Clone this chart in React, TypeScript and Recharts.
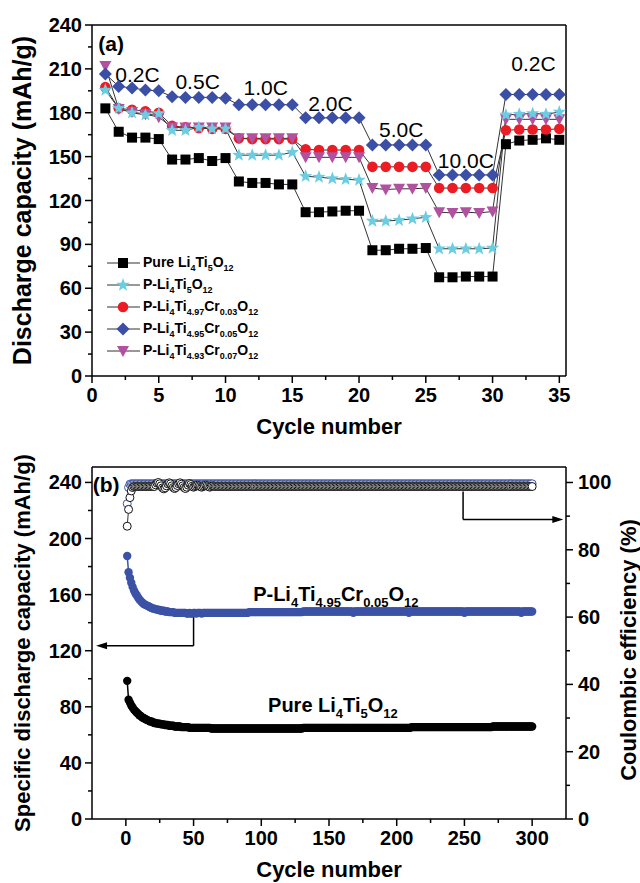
import React from "react";
import {
  LineChart,
  ComposedChart,
  Line,
  XAxis,
  YAxis,
  ReferenceLine,
  ReferenceDot,
  Legend,
} from "recharts";

const FONT = '"Liberation Sans", Arial, Helvetica, sans-serif';

// ---------- (a) rate capability ----------
const rateCycles = [
  1, 2, 3, 4, 5, 6, 7, 8, 9, 10, 11, 12, 13, 14, 15, 16, 17, 18, 19, 20,
  21, 22, 23, 24, 25, 26, 27, 28, 29, 30, 31, 32, 33, 34, 35,
];
const pureRate = [
  183, 167, 163, 163, 162, 148, 148, 149, 147, 149, 133, 132, 132, 131, 131, 112, 112, 112.5, 113, 113,
  86, 86, 87, 87, 87.5, 67.5, 67.5, 68, 68, 68, 158.5, 161, 161.5, 162.5, 161.5,
];
const pLtoRate = [
  195.5, 183, 180, 178.5, 179.5, 168, 168, 170, 169, 169, 151, 151, 151, 151, 153, 136.5, 136, 135, 134.5, 134,
  106, 106, 106.5, 107.5, 108.5, 87, 87, 87, 87, 87.5, 178.5, 179, 179.5, 179, 180.5,
];
const cr003Rate = [
  197.5, 183, 182, 181, 180, 171, 170, 169.5, 169, 169, 162.5, 162, 162, 162, 162, 155, 154.5, 154.5, 154.5, 154.5,
  143, 143, 143, 143, 143, 128.5, 128.5, 128.5, 128.5, 128.5, 168, 168.5, 168.5, 168.5, 169,
];
const cr005Rate = [
  206.5, 198, 197, 195.5, 195, 191, 190.5, 190.5, 190.5, 190, 185.5, 185.5, 185.5, 185.5, 185.5, 176.5, 176.5, 176.5, 176.5, 176.5,
  158, 158, 158, 158, 158, 137.5, 137.5, 137.5, 137.5, 137.5, 192.5, 192.5, 192.5, 192.5, 192.5,
];
const cr007Rate = [
  212, 182.5, 180.5, 179, 177, 170, 170, 170, 170, 170, 162.5, 162.5, 162.5, 162.5, 162.5, 149.5, 149.5, 149.5, 149.5, 149.5,
  128.5, 127.5, 128, 128, 128.5, 112, 111.5, 112, 111.5, 112.5, 175.5, 175.5, 175.5, 175.5, 175.5,
];

const rateTicksX = [0, 2.5, 5, 7.5, 10, 12.5, 15, 17.5, 20, 22.5, 25, 27.5, 30, 32.5, 35];
const rateMajorX = [0, 5, 10, 15, 20, 25, 30, 35];
const rateTicksY = [0, 15, 30, 45, 60, 75, 90, 105, 120, 135, 150, 165, 180, 195, 210, 225, 240];
const rateMajorY = [0, 30, 60, 90, 120, 150, 180, 210, 240];

const rateLabels = [
  { text: "0.2C", x: 1.75, y: 201 },
  { text: "0.5C", x: 6.25, y: 196.5 },
  { text: "1.0C", x: 11.35, y: 192.3 },
  { text: "2.0C", x: 16.2, y: 181.5 },
  { text: "5.0C", x: 21.5, y: 163.7 },
  { text: "10.0C", x: 25.9, y: 142.3 },
  { text: "0.2C", x: 31.4, y: 208.7 },
];

// ---------- (b) long cycling, 300 cycles ----------
const pureCycle = [
  98.5, 85, 83, 81, 79.5, 78, 77, 76, 75, 74, 73.5, 72.5, 72, 71.5, 71, 70.5, 70, 69.5, 69.5, 69,
  68.5, 68.5, 68, 68, 68, 67.5, 67.5, 67.5, 67, 67, 67, 66.5, 66.5, 66.5, 66.5, 66, 66, 66, 66, 66,
  65.5, 65.5, 65.5, 65.5, 65.5, 65.5, 65, 65, 65, 65, 65, 65, 65, 65, 65, 65, 65, 65, 65, 65,
  65, 65, 64.5, 64.5, 64.5, 64.5, 64.5, 64.5, 64.5, 64.5, 64.5, 64.5, 64.5, 64.5, 64.5, 64.5, 64.5, 64.5, 64.5, 64.5,
  64.5, 64.5, 64.5, 64.5, 64.5, 64.5, 64.5, 64.5, 64.5, 64.5, 64.5, 64.5, 64.5, 64.5, 64.5, 64.5, 64.5, 64.5, 64.5, 64.5,
  64.5, 64.5, 64.5, 64.5, 64.5, 64.5, 64.5, 64.5, 64.5, 64.5, 64.5, 64.5, 64.5, 64.5, 64.5, 64.5, 64.5, 64.5, 64.5, 64.5,
  64.5, 64.5, 64.5, 64.5, 64.5, 64.5, 64.5, 64.5, 64.5, 64.5, 65, 65, 65, 65, 65, 65, 65, 65, 65, 65,
  65, 65, 65, 65, 65, 65, 65, 65, 65, 65, 65, 65, 65, 65, 65, 65, 65, 65, 65, 65,
  65, 65, 65, 65, 65, 65, 65, 65, 65, 65, 65, 65, 65, 65, 65, 65, 65, 65, 65, 65,
  65, 65, 65, 65, 65, 65, 65, 65, 65, 65, 65, 65, 65, 65, 65, 65, 65, 65, 65, 65,
  65, 65, 65, 65, 65, 65, 65, 65, 65, 65, 65.5, 65.5, 65.5, 65.5, 65.5, 65.5, 65.5, 65.5, 65.5, 65.5,
  65.5, 65.5, 65.5, 65.5, 65.5, 65.5, 65.5, 65.5, 65.5, 65.5, 65.5, 65.5, 65.5, 65.5, 65.5, 65.5, 65.5, 65.5, 65.5, 65.5,
  65.5, 65.5, 65.5, 65.5, 65.5, 65.5, 65.5, 65.5, 65.5, 65.5, 65.5, 65.5, 65.5, 65.5, 65.5, 65.5, 65.5, 65.5, 65.5, 65.5,
  65.5, 65.5, 65.5, 65.5, 65.5, 65.5, 65.5, 65.5, 65.5, 65.5, 66, 66, 66, 66, 66, 66, 66, 66, 66, 66,
  66, 66, 66, 66, 66, 66, 66, 66, 66, 66, 66, 66, 66, 66, 66, 66, 66, 66, 66, 66,
];
const crCycle = [
  187.5, 176, 172, 168.5, 165.5, 163, 161, 159.5, 158, 156.5, 155.5, 154.5, 153.5, 153, 152.5, 152, 151.5, 151, 150.5, 150,
  150, 149.5, 149.5, 149, 149, 148.5, 148.5, 148.5, 148, 148, 148, 147.5, 147.5, 147.5, 147.5, 147, 147, 147, 147, 147,
  147, 147, 147, 147, 146.5, 146.5, 147, 146.5, 146.5, 147, 147, 146.5, 147, 147, 147, 146.5, 147, 147, 147, 147,
  147, 147, 147, 147, 147, 147, 147, 147, 147, 147, 147, 147, 147, 147, 147, 147, 147, 147, 147, 147,
  147, 147, 147, 147, 147, 147, 147, 147, 147, 147, 147.5, 147.5, 147.5, 147.5, 147.5, 147.5, 147.5, 147.5, 147.5, 147.5,
  147.5, 147.5, 147.5, 147.5, 147.5, 147.5, 147.5, 147.5, 147.5, 147.5, 147.5, 147.5, 147.5, 147.5, 147.5, 147.5, 147.5, 147.5, 147.5, 147.5,
  147.5, 147.5, 147.5, 147.5, 147.5, 147.5, 147.5, 147.5, 147.5, 147.5, 148, 148, 148, 148, 148, 148, 148, 148, 148, 148,
  148, 148, 148, 148, 148, 148, 148, 148, 148, 148, 148, 148, 148, 148, 148, 148, 148, 148, 148, 148,
  148, 148, 148, 148, 148, 148, 148, 147, 148, 148, 148, 148, 148, 148, 148, 148, 148, 148, 148, 148,
  148, 148, 148, 148, 148, 148, 148, 148, 148, 148, 148, 148, 148, 148, 148, 148, 148, 148, 148, 148,
  148, 148, 148, 148, 148, 148, 148, 148, 147, 148, 148, 148, 148, 148, 148, 148, 148, 148, 148, 148,
  148, 148, 148, 148, 148, 148, 148, 148, 148, 148, 148, 148, 148, 148, 148, 148, 148, 148, 148, 148,
  148, 148, 148, 148, 148, 148, 148, 148, 148, 147, 148, 148, 148, 148, 148, 148, 148, 148, 148, 148,
  148, 148, 148, 148, 148, 148, 148, 148, 148, 148, 148, 148, 148, 148, 148, 148, 148, 148, 148, 148,
  148, 148, 148, 148, 148, 148, 148, 148, 148, 148, 148, 147, 148, 148, 148, 148, 148, 148, 148, 148,
];
const effPure = [
  87, 92, 95.5, 97.5, 98.5, 98.8, 98.8, 98.8, 98.8, 98.8, 98.8, 98.8, 98.8, 98.8, 98.8, 98.8, 98.8, 98.8, 98.8, 98.8,
  98.8, 99.3, 99.8, 100, 99.6, 99, 98.4, 98.1, 98.4, 99, 99.6, 99.9, 99.6, 99, 98.5, 98.2, 98.5, 99.1, 99.6, 99.9,
  99.5, 99, 98.5, 98.2, 98.6, 99.2, 99.7, 99.4, 98.9, 98.6, 98.8, 99, 99.2, 99, 98.8, 98.6, 98.8, 99, 99.2, 99,
  98.8, 98.6, 98.8, 99, 98.9, 98.8, 98.8, 98.8, 98.8, 98.8, 98.8, 98.8, 98.8, 98.8, 98.8, 98.8, 98.8, 98.8, 98.8, 98.8,
  98.8, 98.8, 98.8, 98.8, 98.8, 98.8, 98.8, 98.8, 98.8, 98.8, 98.8, 98.8, 98.8, 98.8, 98.8, 98.8, 98.8, 98.8, 98.8, 98.8,
  98.8, 98.8, 98.8, 98.8, 98.8, 98.8, 98.8, 98.8, 98.8, 98.8, 98.8, 98.8, 98.8, 98.8, 98.8, 98.8, 98.8, 98.8, 98.8, 98.8,
  98.8, 98.8, 98.8, 98.8, 98.8, 98.8, 98.8, 98.8, 98.8, 98.8, 98.8, 98.8, 98.8, 98.8, 98.8, 98.8, 98.8, 98.8, 98.8, 98.8,
  98.8, 98.8, 98.8, 98.8, 98.8, 98.8, 98.8, 98.8, 98.8, 98.8, 98.8, 98.8, 98.8, 98.8, 98.8, 98.8, 98.8, 98.8, 98.8, 98.8,
  98.8, 98.8, 98.8, 98.8, 98.8, 98.8, 98.8, 98.8, 98.8, 98.8, 98.8, 98.8, 98.8, 98.8, 98.8, 98.8, 98.8, 98.8, 98.8, 98.8,
  98.8, 98.8, 98.8, 98.8, 98.8, 98.8, 98.8, 98.8, 98.8, 98.8, 98.8, 98.8, 98.8, 98.8, 98.8, 98.8, 98.8, 98.8, 98.8, 98.8,
  98.8, 98.8, 98.8, 98.8, 98.8, 98.8, 98.8, 98.8, 98.8, 98.8, 98.8, 98.8, 98.8, 98.8, 98.8, 98.8, 98.8, 98.8, 98.8, 98.8,
  98.8, 98.8, 98.8, 98.8, 98.8, 98.8, 98.8, 98.8, 98.8, 98.8, 98.8, 98.8, 98.8, 98.8, 98.8, 98.8, 98.8, 98.8, 98.8, 98.8,
  98.8, 98.8, 98.8, 98.8, 98.8, 98.8, 98.8, 98.8, 98.8, 98.8, 98.8, 98.8, 98.8, 98.8, 98.8, 98.8, 98.8, 98.8, 98.8, 98.8,
  98.8, 98.8, 98.8, 98.8, 98.8, 98.8, 98.8, 98.8, 98.8, 98.8, 98.8, 98.8, 98.8, 98.8, 98.8, 98.8, 98.8, 98.8, 98.8, 98.8,
  98.8, 98.8, 98.8, 98.8, 98.8, 98.8, 98.8, 98.8, 98.8, 98.8, 98.8, 98.8, 98.8, 98.8, 98.8, 98.8, 98.8, 98.8, 98.8, 98.8,
];
const effCr = [
  93.7, 98.5, 99.5, 99.6, 99.6, 99.6, 99.6, 99.6, 99.6, 99.6, 99.6, 99.6, 99.6, 99.6, 99.6, 99.6, 99.6, 99.6, 99.6, 99.6,
  99.6, 99.6, 99.6, 99.6, 99.6, 99.6, 99.6, 99.6, 99.6, 99.6, 99.6, 99.6, 99.6, 99.6, 99.6, 99.6, 99.6, 99.6, 99.6, 99.6,
  99.6, 99.6, 99.6, 99.6, 99.6, 99.6, 99.6, 99.6, 99.6, 99.6, 99.6, 99.6, 99.6, 99.6, 99.6, 99.6, 99.6, 99.6, 99.6, 99.6,
  99.6, 99.6, 99.6, 99.6, 99.6, 99.6, 99.6, 99.6, 99.6, 99.6, 99.6, 99.6, 99.6, 99.6, 99.6, 99.6, 99.6, 99.6, 99.6, 99.6,
  99.6, 99.6, 99.6, 99.6, 99.6, 99.6, 99.6, 99.6, 99.6, 99.6, 99.6, 99.6, 99.6, 99.6, 99.6, 99.6, 99.6, 99.6, 99.6, 99.6,
  99.6, 99.6, 99.6, 99.6, 99.6, 99.6, 99.6, 99.6, 99.6, 99.6, 99.6, 99.6, 99.6, 99.6, 99.6, 99.6, 99.6, 99.6, 99.6, 99.6,
  99.6, 99.6, 99.6, 99.6, 99.6, 99.6, 99.6, 99.6, 99.6, 99.6, 99.6, 99.6, 99.6, 99.6, 99.6, 99.6, 99.6, 99.6, 99.6, 99.6,
  99.6, 99.6, 99.6, 99.6, 99.6, 99.6, 99.6, 99.6, 99.6, 99.6, 99.6, 99.6, 99.6, 99.6, 99.6, 99.6, 99.6, 99.6, 99.6, 99.6,
  99.6, 99.6, 99.6, 99.6, 99.6, 99.6, 99.6, 99.6, 99.6, 99.6, 99.6, 99.6, 99.6, 99.6, 99.6, 99.6, 99.6, 99.6, 99.6, 99.6,
  99.6, 99.6, 99.6, 99.6, 99.6, 99.6, 99.6, 99.6, 99.6, 99.6, 99.6, 99.6, 99.6, 99.6, 99.6, 99.6, 99.6, 99.6, 99.6, 99.6,
  99.6, 99.6, 99.6, 99.6, 99.6, 99.6, 99.6, 99.6, 99.6, 99.6, 99.6, 99.6, 99.6, 99.6, 99.6, 99.6, 99.6, 99.6, 99.6, 99.6,
  99.6, 99.6, 99.6, 99.6, 99.6, 99.6, 99.6, 99.6, 99.6, 99.6, 99.6, 99.6, 99.6, 99.6, 99.6, 99.6, 99.6, 99.6, 99.6, 99.6,
  99.6, 99.6, 99.6, 99.6, 99.6, 99.6, 99.6, 99.6, 99.6, 99.6, 99.6, 99.6, 99.6, 99.6, 99.6, 99.6, 99.6, 99.6, 99.6, 99.6,
  99.6, 99.6, 99.6, 99.6, 99.6, 99.6, 99.6, 99.6, 99.6, 99.6, 99.6, 99.6, 99.6, 99.6, 99.6, 99.6, 99.6, 99.6, 99.6, 99.6,
  99.6, 99.6, 99.6, 99.6, 99.6, 99.6, 99.6, 99.6, 99.6, 99.6, 99.6, 99.6, 99.6, 99.6, 99.6, 99.6, 99.6, 99.6, 99.6, 99.6,
];

const cycleTicksX = [0, 25, 50, 75, 100, 125, 150, 175, 200, 225, 250, 275, 300];
const cycleMajorX = [0, 50, 100, 150, 200, 250, 300];
const capTicksY = [0, 20, 40, 60, 80, 100, 120, 140, 160, 180, 200, 220, 240];
const capMajorY = [0, 40, 80, 120, 160, 200, 240];
const effTicksY = [0, 10, 20, 30, 40, 50, 60, 70, 80, 90, 100];
const effMajorY = [0, 20, 40, 60, 80, 100];

// ---------- series look ----------
const rateSeries = [
  { key: "pure", name: "Pure Li_4Ti_5O_12", shape: "square", color: "#000000" },
  { key: "p", name: "P-Li_4Ti_5O_12", shape: "star", color: "#6ccde2" },
  { key: "cr003", name: "P-Li_4Ti_4.97Cr_0.03O_12", shape: "circle", color: "#ec1c24" },
  { key: "cr005", name: "P-Li_4Ti_4.95Cr_0.05O_12", shape: "diamond", color: "#3b4fa6" },
  { key: "cr007", name: "P-Li_4Ti_4.93Cr_0.07O_12", shape: "triangle", color: "#b2519f" },
];
const drawOrder = ["pure", "cr003", "cr007", "p", "cr005"];

const rateRows = rateCycles.map((c, i) => ({
  cycle: c,
  pure: pureRate[i],
  p: pLtoRate[i],
  cr003: cr003Rate[i],
  cr005: cr005Rate[i],
  cr007: cr007Rate[i],
}));

const cycleRows = pureCycle.map((v, i) => ({
  cycle: i + 1,
  pure: v,
  cr: crCycle[i],
  effPure: effPure[i],
  effCr: effCr[i],
}));

function starPoints(cx: number, cy: number, ro: number, ri: number) {
  const pts: string[] = [];
  for (let i = 0; i < 10; i++) {
    const a = (Math.PI / 5) * i - Math.PI / 2;
    const r = i % 2 === 0 ? ro : ri;
    pts.push(`${cx + r * Math.cos(a)},${cy + r * Math.sin(a)}`);
  }
  return pts.join(" ");
}

function Marker({ shape, color, cx, cy }: any) {
  if (cx == null || cy == null) return null;
  switch (shape) {
    case "square":
      return <rect x={cx - 5} y={cy - 5} width={10} height={10} fill={color} />;
    case "circle":
      return <circle cx={cx} cy={cy} r={5.3} fill={color} />;
    case "diamond":
      return (
        <polygon
          points={`${cx},${cy - 6.5} ${cx + 6.5},${cy} ${cx},${cy + 6.5} ${cx - 6.5},${cy}`}
          fill={color}
        />
      );
    case "triangle":
      return (
        <polygon
          points={`${cx - 6},${cy - 5} ${cx + 6},${cy - 5} ${cx},${cy + 6}`}
          fill={color}
        />
      );
    default:
      return <polygon points={starPoints(cx, cy, 7, 2.9)} fill={color} />;
  }
}

// formula text: "_x" marks a subscript run of digits/dots
function SvgFormula({ x, y, f, size, subSize, shift }: any) {
  const parts = f.split(/_([\d.]+)/);
  let cur = 0;
  return (
    <text x={x} y={y} fontFamily={FONT} fontSize={size} fontWeight={700} fill="#000">
      {parts.map((t: string, i: number) => {
        if (!t) return null;
        const target = i % 2 ? shift : 0;
        const dy = target - cur;
        cur = target;
        return (
          <tspan key={i} dy={dy} fontSize={i % 2 ? subSize : size}>
            {t}
          </tspan>
        );
      })}
    </text>
  );
}

function HtmlFormula({ f }: { f: string }) {
  const parts = f.split(/_([\d.]+)/);
  return (
    <span>
      {parts.map((t, i) =>
        i % 2 ? (
          <span key={i} style={{ fontSize: 9, position: "relative", top: 4 }}>
            {t}
          </span>
        ) : (
          <span key={i}>{t}</span>
        )
      )}
    </span>
  );
}

function RateLegend() {
  return (
    <div style={{ fontFamily: FONT, fontWeight: 700, fontSize: 14, color: "#000" }}>
      {rateSeries.map((s) => (
        <div key={s.key} style={{ display: "flex", alignItems: "center", height: 22 }}>
          <svg width={36} height={16} style={{ display: "block" }}>
            <line x1={1} x2={34} y1={8} y2={8} stroke="#333" strokeWidth={1} />
            <Marker shape={s.shape} color={s.color} cx={17} cy={8} />
          </svg>
          <span style={{ marginLeft: 1, whiteSpace: "nowrap", lineHeight: "16px" }}>
            <HtmlFormula f={s.name} />
          </span>
        </div>
      ))}
    </div>
  );
}

const tickFont = { fontFamily: FONT, fontSize: 20, fontWeight: 700, fill: "#000" };

function makeTick(side: "left" | "right" | "bottom", majors: number[]) {
  return (props: any) => {
    const { x, y, payload } = props;
    const v = payload.value;
    const major = majors.includes(v);
    const len = major ? 7 : 4;
    if (side === "left") {
      return (
        <g>
          <line x1={x - len} x2={x} y1={y} y2={y} stroke="#000" strokeWidth={1.5} />
          {major && (
            <text x={x - 10} y={y + 7} textAnchor="end" {...tickFont}>
              {v}
            </text>
          )}
        </g>
      );
    }
    if (side === "right") {
      return (
        <g>
          <line x1={x} x2={x + len} y1={y} y2={y} stroke="#000" strokeWidth={1.5} />
          {major && (
            <text x={x + 12} y={y + 7} textAnchor="start" {...tickFont}>
              {v}
            </text>
          )}
        </g>
      );
    }
    return (
      <g>
        <line x1={x} x2={x} y1={y} y2={y + len} stroke="#000" strokeWidth={1.5} />
        {major && (
          <text x={x} y={y + 26} textAnchor="middle" {...tickFont}>
            {v}
          </text>
        )}
      </g>
    );
  };
}

const titleFont = { fontFamily: FONT, fontWeight: 700, fill: "#000" };

function xTitle(props: any) {
  const vb = props.viewBox || {};
  return (
    <text x={vb.x + vb.width / 2} y={vb.y + 58} textAnchor="middle" fontSize={22} {...titleFont}>
      Cycle number
    </text>
  );
}

function yTitle(text: string, dx: number, dy: number, size: number) {
  return (props: any) => {
    const vb = props.viewBox || {};
    const cx = vb.x + dx;
    const cy = vb.y + vb.height / 2 + dy;
    return (
      <text
        x={cx}
        y={cy}
        textAnchor="middle"
        dominantBaseline="central"
        transform={`rotate(-90, ${cx}, ${cy})`}
        fontSize={size}
        {...titleFont}
      >
        {text}
      </text>
    );
  };
}

function arrowHead(dir: "left" | "right") {
  return (p: any) => {
    const { cx, cy } = p;
    const b = dir === "left" ? cx + 11 : cx - 11;
    return <polygon points={`${cx},${cy} ${b},${cy - 3.5} ${b},${cy + 3.5}`} fill="#000" />;
  };
}

const axisCommon = {
  stroke: "#000",
  axisLine: { stroke: "#000", strokeWidth: 1.5 },
  tickLine: false,
  tickSize: 0,
  tickMargin: 0,
  interval: 0 as const,
};

export default function App() {
  return (
    <div style={{ position: "absolute", left: 0, top: 0, width: 640, height: 883, background: "#fff" }}>
      <div style={{ position: "absolute", left: 0, top: 0 }}>
        <LineChart
          width={640}
          height={440}
          data={rateRows}
          margin={{ top: 25, right: 74, bottom: 0, left: 32 }}
          style={{ fontFamily: FONT }}
        >
          <XAxis
            dataKey="cycle"
            type="number"
            domain={[0, 35.5]}
            ticks={rateTicksX}
            tick={makeTick("bottom", rateMajorX)}
            height={64}
            label={xTitle}
            {...axisCommon}
          />
          <YAxis
            type="number"
            domain={[0, 240]}
            ticks={rateTicksY}
            tick={makeTick("left", rateMajorY)}
            width={60}
            label={yTitle("Discharge capacity (mAh/g)", -10, 0, 25)}
            {...axisCommon}
          />
          <ReferenceLine x={35.5} stroke="#000" strokeWidth={1.5} />
          <ReferenceLine y={240} stroke="#000" strokeWidth={1.5} />
          {drawOrder.map((k) => {
            const s = rateSeries.find((r) => r.key === k)!;
            return (
              <Line
                key={k}
                dataKey={k}
                stroke="#333"
                strokeWidth={1}
                isAnimationActive={false}
                activeDot={false}
                dot={(p: any) => (
                  <Marker key={`${k}-${p.index}`} shape={s.shape} color={s.color} cx={p.cx} cy={p.cy} />
                )}
              />
            );
          })}
          {rateLabels.map((l, i) => (
            <ReferenceDot
              key={`rl-${i}`}
              x={l.x}
              y={l.y}
              r={0}
              ifOverflow="visible"
              shape={(p: any) => (
                <text x={p.cx} y={p.cy} fontFamily={FONT} fontSize={21} fill="#000">
                  {l.text}
                </text>
              )}
            />
          ))}
          <ReferenceDot
            x={0.47}
            y={222}
            r={0}
            ifOverflow="visible"
            shape={(p: any) => (
              <text x={p.cx} y={p.cy} fontFamily={FONT} fontSize={21} fontWeight={700} fill="#000">
                (a)
              </text>
            )}
          />
          <Legend
            layout="horizontal"
            verticalAlign="middle"
            align="center"
            wrapperStyle={{ left: 106, top: 252, width: 280 }}
            content={() => <RateLegend />}
          />
        </LineChart>
      </div>

      <div style={{ position: "absolute", left: 0, top: 440 }}>
        <ComposedChart
          width={640}
          height={443}
          data={cycleRows}
          margin={{ top: 27, right: 14, bottom: 0, left: 32 }}
          style={{ fontFamily: FONT }}
        >
          <XAxis
            dataKey="cycle"
            type="number"
            domain={[-25, 325]}
            ticks={cycleTicksX}
            tick={makeTick("bottom", cycleMajorX)}
            height={64}
            label={xTitle}
            {...axisCommon}
          />
          <YAxis
            yAxisId="left"
            type="number"
            domain={[0, 251]}
            ticks={capTicksY}
            tick={makeTick("left", capMajorY)}
            width={60}
            label={yTitle("Specific discharge capacity (mAh/g)", -10, 0, 22)}
            {...axisCommon}
          />
          <YAxis
            yAxisId="right"
            orientation="right"
            type="number"
            domain={[0, 104.6]}
            ticks={effTicksY}
            tick={makeTick("right", effMajorY)}
            width={60}
            label={yTitle("Coulombic efficiency (%)", 62, 7, 22)}
            {...axisCommon}
          />
          <ReferenceLine yAxisId="left" y={251} stroke="#000" strokeWidth={1.5} />

          <Line
            yAxisId="right"
            dataKey="effCr"
            stroke="#3b52a6"
            strokeWidth={1}
            isAnimationActive={false}
            activeDot={false}
            dot={(p: any) => (
              <circle key={`ec-${p.index}`} cx={p.cx} cy={p.cy} r={4} fill="#fff" stroke="#3b52a6" strokeWidth={1} />
            )}
          />
          <Line
            yAxisId="right"
            dataKey="effPure"
            stroke="#333"
            strokeWidth={1}
            isAnimationActive={false}
            activeDot={false}
            dot={(p: any) => (
              <circle key={`ep-${p.index}`} cx={p.cx} cy={p.cy} r={4} fill="#fff" stroke="#111" strokeWidth={1} />
            )}
          />
          <Line
            yAxisId="left"
            dataKey="cr"
            stroke="#3b52a6"
            strokeWidth={1.5}
            isAnimationActive={false}
            activeDot={false}
            dot={(p: any) => <circle key={`c-${p.index}`} cx={p.cx} cy={p.cy} r={4.2} fill="#3b52a6" />}
          />
          <Line
            yAxisId="left"
            dataKey="pure"
            stroke="#000"
            strokeWidth={1.5}
            isAnimationActive={false}
            activeDot={false}
            dot={(p: any) => <circle key={`p-${p.index}`} cx={p.cx} cy={p.cy} r={4.2} fill="#000" />}
          />

          {/* arrow to left axis */}
          <ReferenceLine
            yAxisId="left"
            segment={[{ x: 50, y: 145 }, { x: 50, y: 123.5 }]}
            stroke="#000"
            strokeWidth={1.5}
            ifOverflow="visible"
          />
          <ReferenceLine
            yAxisId="left"
            segment={[{ x: 50, y: 123.5 }, { x: -16, y: 123.5 }]}
            stroke="#000"
            strokeWidth={1.5}
            ifOverflow="visible"
          />
          <ReferenceDot yAxisId="left" x={-22} y={123.5} r={0} ifOverflow="visible" shape={arrowHead("left")} />

          {/* arrow to right axis */}
          <ReferenceLine
            yAxisId="right"
            segment={[{ x: 249, y: 97.3 }, { x: 249, y: 89 }]}
            stroke="#000"
            strokeWidth={1.5}
            ifOverflow="visible"
          />
          <ReferenceLine
            yAxisId="right"
            segment={[{ x: 249, y: 89 }, { x: 316, y: 89 }]}
            stroke="#000"
            strokeWidth={1.5}
            ifOverflow="visible"
          />
          <ReferenceDot yAxisId="right" x={323} y={89} r={0} ifOverflow="visible" shape={arrowHead("right")} />

          <ReferenceDot
            yAxisId="left"
            x={-24.5}
            y={233}
            r={0}
            ifOverflow="visible"
            shape={(p: any) => (
              <text x={p.cx} y={p.cy} fontFamily={FONT} fontSize={21} fontWeight={700} fill="#000">
                (b)
              </text>
            )}
          />
          <ReferenceDot
            yAxisId="left"
            x={94}
            y={155.5}
            r={0}
            ifOverflow="visible"
            shape={(p: any) => (
              <SvgFormula x={p.cx} y={p.cy} f="P-Li_4Ti_4.95Cr_0.05O_12" size={20} subSize={13} shift={6} />
            )}
          />
          <ReferenceDot
            yAxisId="left"
            x={105}
            y={76}
            r={0}
            ifOverflow="visible"
            shape={(p: any) => (
              <SvgFormula x={p.cx} y={p.cy} f="Pure Li_4Ti_5O_12" size={20} subSize={13} shift={6} />
            )}
          />
        </ComposedChart>
      </div>
    </div>
  );
}
